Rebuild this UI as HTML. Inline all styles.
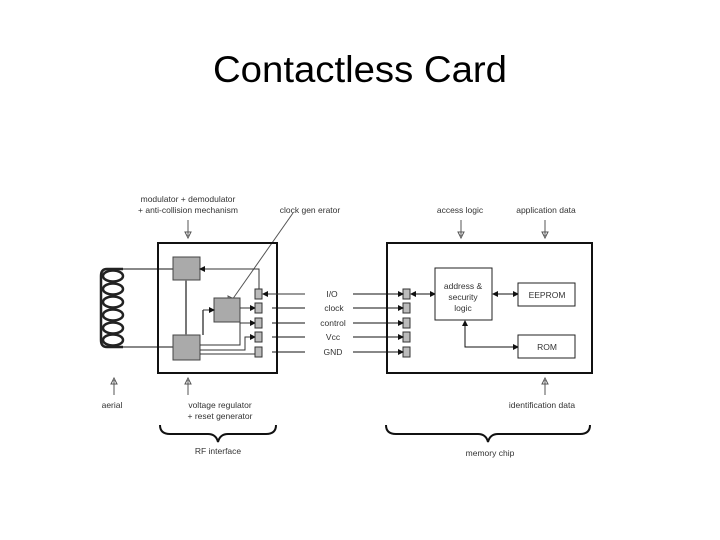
<!DOCTYPE html>
<html><head><meta charset="utf-8"><style>
html,body{margin:0;padding:0;background:#fff;}
svg{display:block;}
text{font-family:"Liberation Sans",sans-serif;fill:#333;}
</style></head><body>
<svg width="720" height="540" viewBox="0 0 720 540" xmlns="http://www.w3.org/2000/svg">
<defs>
<marker id="a" markerWidth="6" markerHeight="6" refX="5" refY="3" orient="auto" markerUnits="userSpaceOnUse"><path d="M0,0 L6,3 L0,6 z" fill="#111"/></marker>
<marker id="b" markerWidth="6" markerHeight="6" refX="1" refY="3" orient="auto" markerUnits="userSpaceOnUse"><path d="M6,0 L0,3 L6,6 z" fill="#111"/></marker>
</defs>
<text x="360" y="82" text-anchor="middle" font-size="37" style="fill:#000" textLength="294" lengthAdjust="spacingAndGlyphs">Contactless Card</text>

<!-- hollow arrows -->
<g stroke="#555" fill="none" stroke-width="1">
<path d="M188,220 V236 M185,232 L188,238 L191,232 z"/>
<path d="M461,220 V236 M458,232 L461,238 L464,232 z"/>
<path d="M545,220 V236 M542,232 L545,238 L548,232 z"/>
<path d="M114,395 V380 M111,384 L114,378 L117,384 z"/>
<path d="M188,395 V380 M185,384 L188,378 L191,384 z"/>
<path d="M545,395 V380 M542,384 L545,378 L548,384 z"/>
<path d="M293,213 L232,300 M228,296 L229,304 L236,300 z"/>
</g>

<rect x="158" y="243" width="119" height="130" fill="none" stroke="#111" stroke-width="2"/>
<rect x="387" y="243" width="205" height="130" fill="none" stroke="#111" stroke-width="2"/>

<!-- coil -->
<g fill="none" stroke="#222" stroke-width="2.5">
<path d="M123,269 H107 Q101,269 101,276 V340 Q101,347 107,347 H123"/>
<ellipse cx="113" cy="276" rx="10" ry="5.5"/>
<ellipse cx="113" cy="289" rx="10" ry="5.5"/>
<ellipse cx="113" cy="302" rx="10" ry="5.5"/>
<ellipse cx="113" cy="315" rx="10" ry="5.5"/>
<ellipse cx="113" cy="328" rx="10" ry="5.5"/>
<ellipse cx="113" cy="340" rx="10" ry="5.5"/>
</g>
<g stroke="#111" stroke-width="1" fill="none">
<path d="M123,269 H173"/><path d="M123,347 H173"/>
</g>

<g fill="#aaa" stroke="#444" stroke-width="1">
<rect x="173" y="257" width="27" height="23"/>
<rect x="214" y="298" width="26" height="24"/>
<rect x="173" y="335" width="27" height="25"/>
</g>
<g stroke="#777" stroke-width="2" fill="none">
<line x1="186" y1="280" x2="186" y2="335"/>
<line x1="203" y1="335" x2="203" y2="310"/>
</g>
<g stroke="#333" stroke-width="1" fill="none">
<path d="M259,289 V269 H200" marker-end="url(#a)"/>
<path d="M203,310 H214" marker-end="url(#a)"/>
<path d="M240,308 H255" marker-end="url(#a)"/>
<path d="M200,345 H240 V323 H255" marker-end="url(#a)"/>
<path d="M200,350 H245 V337 H255" marker-end="url(#a)"/>
<path d="M200,354 H255"/>
<path d="M305,294 H263" marker-end="url(#a)"/>
</g>
<g fill="#bbb" stroke="#333" stroke-width="1">
<rect x="255" y="289" width="7" height="10"/>
<rect x="255" y="303" width="7" height="10"/>
<rect x="255" y="318" width="7" height="10"/>
<rect x="255" y="332" width="7" height="10"/>
<rect x="255" y="347" width="7" height="10"/>
<rect x="403" y="289" width="7" height="10"/>
<rect x="403" y="303" width="7" height="10"/>
<rect x="403" y="318" width="7" height="10"/>
<rect x="403" y="332" width="7" height="10"/>
<rect x="403" y="347" width="7" height="10"/>
</g>
<g stroke="#111" stroke-width="1" fill="none">
<path d="M305,308 H272"/><path d="M305,323 H272"/><path d="M305,337 H272"/><path d="M305,352 H272"/>
<path d="M353,294 H403" marker-end="url(#a)"/>
<path d="M353,308 H403" marker-end="url(#a)"/>
<path d="M353,323 H403" marker-end="url(#a)"/>
<path d="M353,337 H403" marker-end="url(#a)"/>
<path d="M353,352 H403" marker-end="url(#a)"/>
<path d="M411,294 H435" marker-start="url(#b)" marker-end="url(#a)"/>
<path d="M493,294 H518" marker-start="url(#b)" marker-end="url(#a)"/>
<path d="M465,321 V347 H518" marker-start="url(#b)" marker-end="url(#a)"/>
</g>
<g fill="#fff" stroke="#222" stroke-width="1">
<rect x="435" y="268" width="57" height="52"/>
<rect x="518" y="283" width="57" height="23"/>
<rect x="518" y="335" width="57" height="23"/>
</g>

<g stroke="#111" stroke-width="2" fill="none">
<path d="M160,425 Q160,434 170,434 H208 Q216,434 218,442 Q220,434 228,434 H266 Q276,434 276,425"/>
<path d="M386,425 Q386,434 396,434 H478 Q486,434 488,442 Q490,434 498,434 H580 Q590,434 590,425"/>
</g>

<g font-size="8.5">
<text x="188" y="202" text-anchor="middle">modulator + demodulator</text>
<text x="188" y="213" text-anchor="middle">+ anti-collision mechanism</text>
<text x="310" y="213" text-anchor="middle">clock gen erator</text>
<text x="460" y="213" text-anchor="middle">access logic</text>
<text x="546" y="213" text-anchor="middle">application data</text>
<text x="112" y="408" text-anchor="middle">aerial</text>
<text x="220" y="408" text-anchor="middle">voltage regulator</text>
<text x="220" y="419" text-anchor="middle">+ reset generator</text>
<text x="542" y="408" text-anchor="middle">identification data</text>
<text x="218" y="454" text-anchor="middle">RF interface</text>
<text x="490" y="456" text-anchor="middle">memory chip</text>
<text x="332" y="297" text-anchor="middle">I/O</text>
<text x="334" y="311" text-anchor="middle">clock</text>
<text x="333" y="326" text-anchor="middle">control</text>
<text x="333" y="340" text-anchor="middle">Vcc</text>
<text x="333" y="355" text-anchor="middle">GND</text>
<text x="463" y="289" text-anchor="middle">address &amp;</text>
<text x="463" y="300" text-anchor="middle">security</text>
<text x="463" y="311" text-anchor="middle">logic</text>
<text x="547" y="298" text-anchor="middle">EEPROM</text>
<text x="547" y="350" text-anchor="middle">ROM</text>
</g>
</svg>
</body></html>
